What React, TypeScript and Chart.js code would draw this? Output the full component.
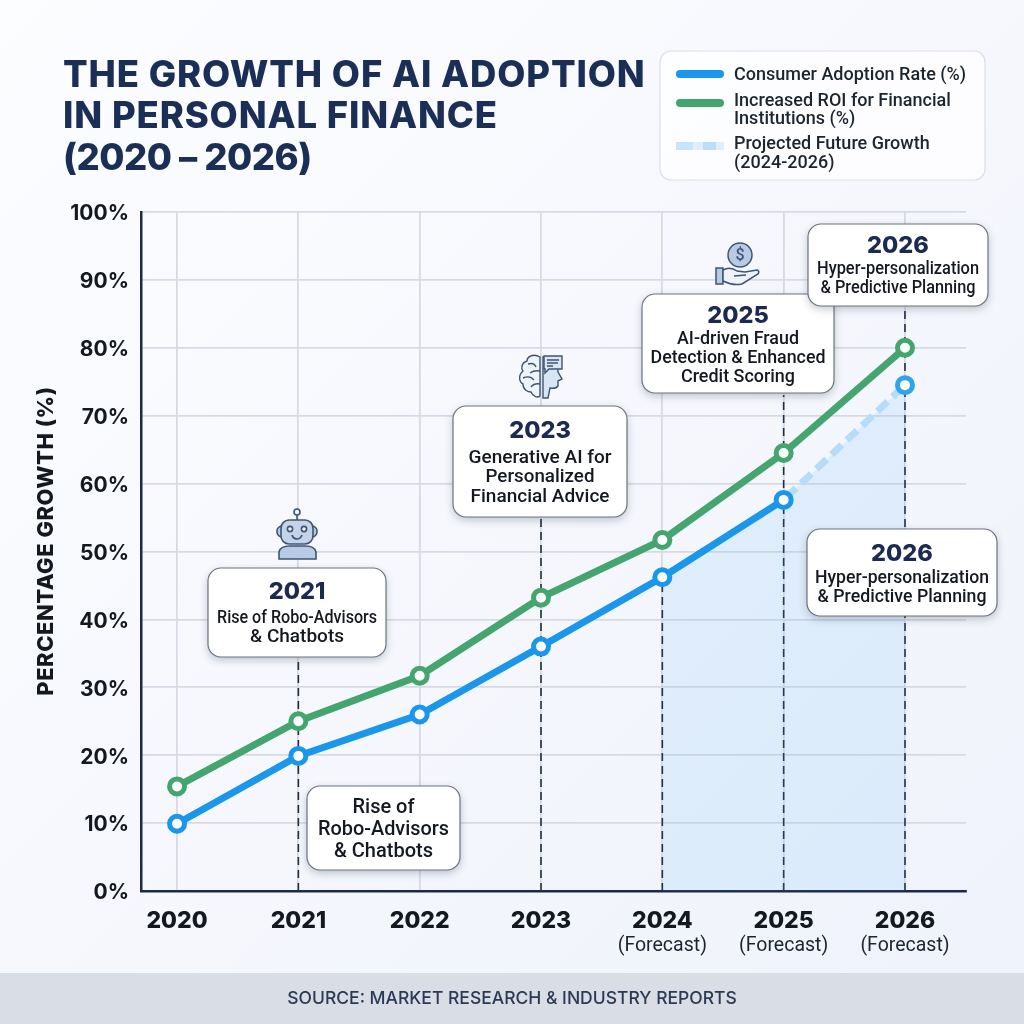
import React, { useRef, useEffect } from "react";
import { Chart, registerables } from "chart.js";

Chart.register(...registerables);

const years = [2020, 2021, 2022, 2023, 2024, 2025, 2026];
const adoption = [9.9, 19.9, 26, 36, 46.2, 57.6, 74.5];
const roi = [15.4, 25, 31.7, 43.2, 51.7, 64.5, 80];
const projectedYears = [2024, 2025, 2026];
const projected = [46.2, 57.6, 74.5];
const dropYears = [2021, 2023, 2024, 2025, 2026];
const dropTops = [34, 55, 46, 73, 86];
const forecastYears = [2024, 2025, 2026];

const titleLines = ["THE GROWTH OF AI ADOPTION", "IN PERSONAL FINANCE", "(2020 – 2026)"];
const titleSpacing = ["0.85px", "0.85px", "-0.5px"];
const sourceText = "SOURCE: MARKET RESEARCH & INDUSTRY REPORTS";

const NAVY = "#1b2f56";
const AXIS = "#1d2a45";
const INK = "#1c2430";
const BLUE = "#1a97ea";
const GREEN = "#45a56e";
const GRID = "#d8dae2";

// box, heading, then each text line with its centre y and its drawn width
const callouts: any[] = [
  { x: 208, y: 568, w: 178, h: 89, head: "2021", headY: 592, lines: ["Rise of Robo-Advisors", "& Chatbots"], lineY: [618, 637], lineW: [160, 94], size: 18 },
  { x: 307, y: 786, w: 153, h: 84, head: "", headY: 0, lines: ["Rise of", "Robo-Advisors", "& Chatbots"], lineY: [808, 830, 852], lineW: [62, 131, 99], size: 20 },
  { x: 453, y: 406, w: 174, h: 111, head: "2023", headY: 431, lines: ["Generative AI for", "Personalized", "Financial Advice"], lineY: [458, 477, 497], lineW: [143, 109, 139], size: 19 },
  { x: 642, y: 294, w: 192, h: 99, head: "2025", headY: 316, lines: ["AI-driven Fraud", "Detection & Enhanced", "Credit Scoring"], lineY: [339, 358, 377], lineW: [122, 175, 114], size: 18 },
  { x: 808, y: 224, w: 180, h: 82, head: "2026", headY: 246, lines: ["Hyper-personalization", "& Predictive Planning"], lineY: [269, 288], lineW: [162, 155], size: 18 },
  { x: 807, y: 529, w: 190, h: 87, head: "2026", headY: 554, lines: ["Hyper-personalization", "& Predictive Planning"], lineY: [578, 597], lineW: [174, 169], size: 19 },
];

const legendRows = [
  { lines: ["Consumer Adoption Rate (%)"], ys: [75] },
  { lines: ["Increased ROI for Financial", "Institutions (%)"], ys: [101, 119] },
  { lines: ["Projected Future Growth", "(2024-2026)"], ys: [144, 163] },
];

function text(ctx: CanvasRenderingContext2D, str: string, x: number, y: number, font: string, color: string, align: CanvasTextAlign = "center", spacing = "0px") {
  ctx.font = font;
  ctx.fillStyle = color;
  ctx.textAlign = align;
  ctx.textBaseline = "middle";
  (ctx as any).letterSpacing = spacing;
  ctx.fillText(str, x, y);
  (ctx as any).letterSpacing = "0px";
}

// the reference's lines are a little narrower or wider than Roboto, so stretch to width
function fitText(ctx: CanvasRenderingContext2D, str: string, cx: number, y: number, font: string, color: string, width: number) {
  ctx.font = font;
  const measured = ctx.measureText(str).width;
  ctx.save();
  ctx.translate(cx, y);
  ctx.scale(width / measured, 1);
  text(ctx, str, 0, 0, font, color);
  ctx.restore();
}

function drawRobot(ctx: CanvasRenderingContext2D) {
  ctx.save();
  ctx.strokeStyle = "#3f5470";
  ctx.lineWidth = 1.6;
  ctx.fillStyle = "#b7cbe6";
  // shoulders
  ctx.beginPath();
  ctx.moveTo(279, 559);
  ctx.lineTo(279, 552);
  ctx.quadraticCurveTo(280, 546, 290, 546);
  ctx.lineTo(305, 546);
  ctx.quadraticCurveTo(315, 546, 316, 552);
  ctx.lineTo(316, 559);
  ctx.closePath();
  ctx.fill();
  ctx.stroke();
  // ears
  ctx.beginPath();
  ctx.roundRect(277, 526, 40, 11, 5);
  ctx.fill();
  ctx.stroke();
  // head
  ctx.fillStyle = "#c3d4ea";
  ctx.beginPath();
  ctx.roundRect(281, 520, 32, 24, 8);
  ctx.fill();
  ctx.stroke();
  // antenna
  ctx.beginPath();
  ctx.moveTo(297, 520);
  ctx.lineTo(297, 515);
  ctx.stroke();
  ctx.fillStyle = "#eef3fa";
  ctx.beginPath();
  ctx.arc(297, 512, 3, 0, Math.PI * 2);
  ctx.fill();
  ctx.stroke();
  // eyes and smile
  [290, 304].forEach((ex) => {
    ctx.beginPath();
    ctx.arc(ex, 529, 2.6, 0, Math.PI * 2);
    ctx.fill();
    ctx.stroke();
  });
  ctx.beginPath();
  ctx.arc(297, 534, 5, 0.2, Math.PI - 0.2);
  ctx.stroke();
  ctx.restore();
}

function drawBrainHead(ctx: CanvasRenderingContext2D) {
  ctx.save();
  ctx.strokeStyle = "#3f5470";
  ctx.lineWidth = 1.4;
  ctx.fillStyle = "#eef3fa";
  // brain half
  ctx.beginPath();
  ctx.moveTo(540, 357);
  ctx.bezierCurveTo(533, 353, 527, 357, 527, 361);
  ctx.bezierCurveTo(521, 363, 521, 369, 523, 371);
  ctx.bezierCurveTo(518, 375, 519, 382, 523, 384);
  ctx.bezierCurveTo(523, 390, 528, 392, 531, 392);
  ctx.bezierCurveTo(533, 397, 538, 398, 540, 396);
  ctx.closePath();
  ctx.fill();
  ctx.stroke();
  ctx.beginPath();
  ctx.moveTo(528, 364);
  ctx.quadraticCurveTo(534, 362, 536, 367);
  ctx.moveTo(540, 371);
  ctx.quadraticCurveTo(534, 370, 530, 373);
  ctx.moveTo(523, 378);
  ctx.quadraticCurveTo(530, 375, 534, 380);
  ctx.moveTo(540, 384);
  ctx.quadraticCurveTo(534, 383, 531, 387);
  ctx.stroke();
  // head profile
  ctx.fillStyle = "#d8e5f4";
  ctx.beginPath();
  ctx.moveTo(543, 357);
  ctx.lineTo(553, 357);
  ctx.bezierCurveTo(557, 362, 558, 368, 558, 372);
  ctx.lineTo(562, 379);
  ctx.lineTo(558, 381);
  ctx.lineTo(558, 386);
  ctx.quadraticCurveTo(556, 389, 550, 388);
  ctx.lineTo(548, 398);
  ctx.lineTo(543, 398);
  ctx.closePath();
  ctx.fill();
  ctx.stroke();
  // speech bubble
  ctx.fillStyle = "#d8e5f4";
  ctx.beginPath();
  ctx.moveTo(544, 356);
  ctx.lineTo(562, 356);
  ctx.lineTo(562, 369);
  ctx.lineTo(549, 369);
  ctx.lineTo(545, 373);
  ctx.lineTo(545, 369);
  ctx.lineTo(544, 369);
  ctx.closePath();
  ctx.fill();
  ctx.stroke();
  ctx.beginPath();
  ctx.moveTo(547, 360);
  ctx.lineTo(559, 360);
  ctx.moveTo(547, 363);
  ctx.lineTo(558, 363);
  ctx.moveTo(547, 366);
  ctx.lineTo(553, 366);
  ctx.stroke();
  ctx.restore();
}

function drawHandCoin(ctx: CanvasRenderingContext2D) {
  ctx.save();
  ctx.strokeStyle = "#3f5470";
  ctx.lineWidth = 1.5;
  ctx.fillStyle = "#b7cbe6";
  ctx.beginPath();
  ctx.arc(740, 255, 12, 0, Math.PI * 2);
  ctx.fill();
  ctx.stroke();
  text(ctx, "$", 740, 256, "500 16px Roboto", "#3f5470");
  // cuff
  ctx.fillStyle = "#b7cbe6";
  ctx.beginPath();
  ctx.rect(716, 268, 7, 16);
  ctx.fill();
  ctx.stroke();
  // hand
  ctx.fillStyle = "#eef3fa";
  ctx.beginPath();
  ctx.moveTo(723, 270);
  ctx.quadraticCurveTo(730, 266, 737, 271);
  ctx.lineTo(745, 272);
  ctx.lineTo(757, 270);
  ctx.quadraticCurveTo(760, 271, 758, 274);
  ctx.lineTo(742, 284);
  ctx.quadraticCurveTo(733, 286, 723, 281);
  ctx.closePath();
  ctx.fill();
  ctx.stroke();
  ctx.beginPath();
  ctx.moveTo(734, 276);
  ctx.lineTo(746, 275);
  ctx.stroke();
  ctx.restore();
}

const backdropPlugin = {
  id: "backdrop",
  beforeDraw(chart: any) {
    const { ctx, width, height } = chart;
    ctx.save();
    const g = ctx.createLinearGradient(0, 0, width, height);
    g.addColorStop(0, "#fcfdff");
    g.addColorStop(1, "#eff2fb");
    ctx.fillStyle = g;
    ctx.fillRect(0, 0, width, height);
    ctx.fillStyle = "#d8dde6";
    ctx.fillRect(0, 973, width, 51);
    text(ctx, sourceText, 512, 999, "500 17.5px Inter", "#2b3a52");

    titleLines.forEach((line, i) => {
      text(ctx, line, 63, 76 + i * 41.5, "800 36.5px Inter", NAVY, "left", titleSpacing[i]);
    });

    // legend
    ctx.fillStyle = "rgba(255,255,255,0.75)";
    ctx.strokeStyle = "#dcdfe6";
    ctx.lineWidth = 1.2;
    ctx.beginPath();
    ctx.roundRect(660, 51, 325, 129, 11);
    ctx.fill();
    ctx.stroke();
    ctx.lineWidth = 8;
    ctx.lineCap = "round";
    ctx.strokeStyle = BLUE;
    ctx.beginPath();
    ctx.moveTo(680, 74);
    ctx.lineTo(720, 74);
    ctx.stroke();
    ctx.strokeStyle = GREEN;
    ctx.beginPath();
    ctx.moveTo(680, 103);
    ctx.lineTo(720, 103);
    ctx.stroke();
    ctx.lineCap = "butt";
    ctx.strokeStyle = "#e0eefb";
    ctx.beginPath();
    ctx.moveTo(676, 146);
    ctx.lineTo(724, 146);
    ctx.stroke();
    ctx.strokeStyle = "#c9e3f9";
    ctx.beginPath();
    ctx.moveTo(676, 146);
    ctx.lineTo(693, 146);
    ctx.stroke();
    ctx.strokeStyle = "#bcdcf7";
    ctx.beginPath();
    ctx.moveTo(703, 146);
    ctx.lineTo(716, 146);
    ctx.stroke();
    legendRows.forEach((row) => {
      row.lines.forEach((line, i) => {
        text(ctx, line, 734, row.ys[i], "500 18px Roboto", INK, "left");
      });
    });
    ctx.restore();
  },
  beforeDatasetsDraw(chart: any) {
    const { ctx, scales } = chart;
    ctx.save();
    ctx.strokeStyle = "#1f2d42";
    ctx.lineWidth = 1.6;
    ctx.setLineDash([8, 5]);
    dropYears.forEach((year, i) => {
      const px = scales.x.getPixelForValue(year);
      ctx.beginPath();
      ctx.moveTo(px, scales.y.getPixelForValue(0));
      ctx.lineTo(px, scales.y.getPixelForValue(dropTops[i]));
      ctx.stroke();
    });
    ctx.restore();
  },
  afterDatasetsDraw(chart: any) {
    const { ctx, scales } = chart;
    ctx.save();
    callouts.forEach((c) => {
      ctx.save();
      ctx.shadowColor = "rgba(40,50,70,0.28)";
      ctx.shadowBlur = 9;
      ctx.shadowOffsetY = 3;
      ctx.fillStyle = "#ffffff";
      ctx.beginPath();
      ctx.roundRect(c.x, c.y, c.w, c.h, 13);
      ctx.fill();
      ctx.restore();
      ctx.strokeStyle = "#6c7480";
      ctx.lineWidth = 1.2;
      ctx.beginPath();
      ctx.roundRect(c.x, c.y, c.w, c.h, 13);
      ctx.stroke();
      const cx = c.x + c.w / 2;
      if (c.head) text(ctx, c.head, cx, c.headY, "800 23.5px Inter", "#1c2a52");
      c.lines.forEach((line: string, i: number) => {
        fitText(ctx, line, cx, c.lineY[i], `500 ${c.size}px Roboto`, "#14181f", c.lineW[i]);
      });
    });
    drawRobot(ctx);
    drawBrainHead(ctx);
    drawHandCoin(ctx);

    forecastYears.forEach((year) => {
      text(ctx, "(Forecast)", scales.x.getPixelForValue(year), 946, "400 19.5px Roboto", INK);
    });

    ctx.translate(46, 541);
    ctx.rotate(-Math.PI / 2);
    text(ctx, "PERCENTAGE GROWTH (%)", 0, 0, "800 22px Inter", "#14181f", "center", "0.5px");
    ctx.restore();
  },
};

const App: React.FC = () => {
  const chartRef = useRef<HTMLCanvasElement | null>(null);

  useEffect(() => {
    if (!chartRef.current) return;
    const chart = new Chart(chartRef.current, {
      type: "line",
      data: {
        datasets: [
          {
            label: "Increased ROI for Financial Institutions (%)",
            data: years.map((x, i) => ({ x, y: roi[i] })),
            borderColor: GREEN,
            backgroundColor: "#ffffff",
            borderWidth: 7,
            pointRadius: 7.5,
            pointBorderWidth: 5,
            pointBorderColor: GREEN,
            pointBackgroundColor: "#ffffff",
          },
          {
            label: "Consumer Adoption Rate (%)",
            data: years.map((x, i) => ({ x, y: adoption[i] })),
            borderColor: BLUE,
            backgroundColor: "#ffffff",
            borderWidth: 7,
            pointRadius: 7.5,
            pointBorderWidth: 5,
            pointBorderColor: years.map((y) => (y === 2026 ? "#2ea4ea" : BLUE)),
            pointBackgroundColor: "#ffffff",
            segment: {
              borderColor: (c: any) => (c.p1DataIndex === years.length - 1 ? "transparent" : BLUE),
            },
          },
          {
            label: "Projected Future Growth (2024-2026)",
            data: projectedYears.map((x, i) => ({ x, y: projected[i] })),
            borderColor: "#b5dcf9",
            borderWidth: 7,
            borderDash: [14, 7],
            pointRadius: 0,
            fill: "origin",
            backgroundColor: "rgba(70,175,250,0.12)",
          },
        ],
      },
      options: {
        responsive: false,
        animation: false,
        layout: { padding: { top: 212, right: 58, left: 0, bottom: 0 } },
        plugins: { legend: { display: false }, tooltip: { enabled: false } },
        scales: {
          x: {
            type: "linear",
            min: 2019.703,
            max: 2026.503,
            afterBuildTicks: (scale: any) => {
              scale.ticks = years.map((value) => ({ value }));
            },
            afterFit: (scale: any) => {
              scale.height = 133;
            },
            grid: { color: GRID, lineWidth: 1.8, drawTicks: false },
            border: { color: AXIS, width: 2.5 },
            ticks: {
              padding: 16,
              autoSkip: false,
              maxRotation: 0,
              color: "#14181f",
              font: { family: "Inter", size: 23, weight: 800 },
              callback: (v: any) => String(v),
            },
          },
          y: {
            min: 0,
            max: 100,
            afterFit: (scale: any) => {
              scale.width = 141;
            },
            grid: { color: GRID, lineWidth: 1.8, drawTicks: false },
            border: { color: AXIS, width: 2.5 },
            ticks: {
              stepSize: 10,
              padding: 12,
              labelOffset: 2,
              color: "#14181f",
              font: { family: "Inter", size: 21, weight: 700 },
              callback: (v: any) => `${v}%`,
            },
          },
        },
      },
      plugins: [backdropPlugin],
    } as any);
    return () => chart.destroy();
  }, []);

  return (
    <div style={{ position: "absolute", left: 0, top: 0, width: 1024, height: 1024 }}>
      <canvas ref={chartRef} width={1024} height={1024} style={{ display: "block" }}></canvas>
    </div>
  );
};

export default App;
